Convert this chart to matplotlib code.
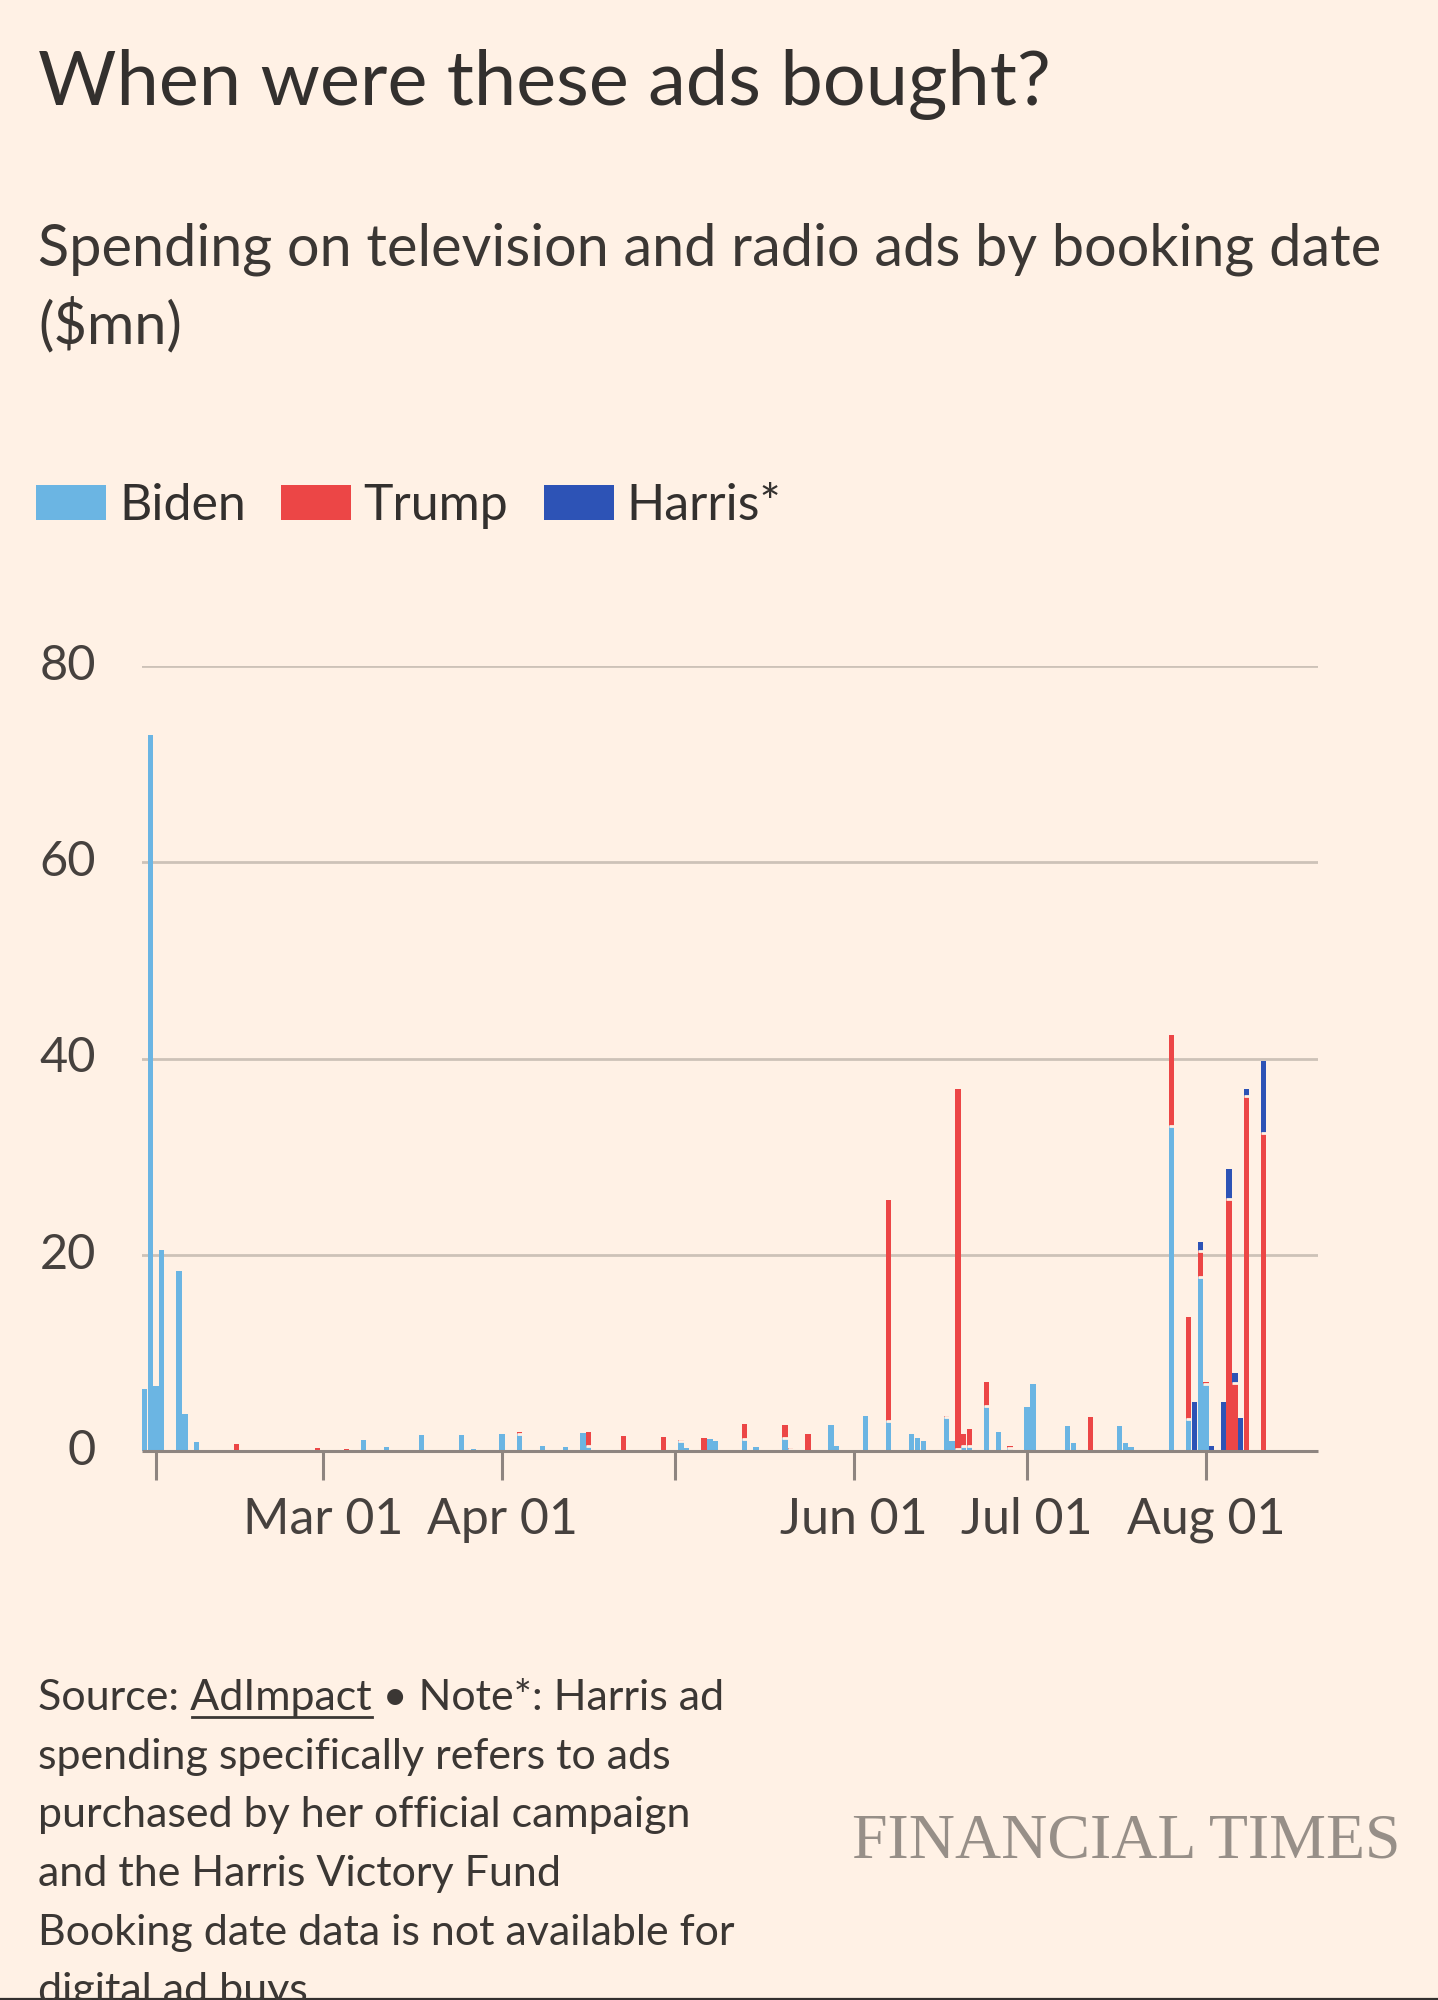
import matplotlib
matplotlib.use("Agg")
import matplotlib.pyplot as plt
import matplotlib.dates as mdates
import numpy as np
import pandas as pd

# ---------------- data ----------------
dates = ["2024-01-30", "2024-01-31", "2024-02-01", "2024-02-02", "2024-02-05", "2024-02-06",
         "2024-02-08", "2024-02-15", "2024-02-29", "2024-03-05", "2024-03-08", "2024-03-12",
         "2024-03-18", "2024-03-22", "2024-03-25", "2024-03-27", "2024-04-01", "2024-04-04",
         "2024-04-08", "2024-04-12", "2024-04-15", "2024-04-16", "2024-04-22", "2024-04-29",
         "2024-04-30", "2024-05-02", "2024-05-03", "2024-05-06", "2024-05-07", "2024-05-08",
         "2024-05-09", "2024-05-13", "2024-05-15", "2024-05-20", "2024-05-21", "2024-05-24",
         "2024-05-28", "2024-05-29", "2024-06-03", "2024-06-07", "2024-06-09", "2024-06-11",
         "2024-06-12", "2024-06-13", "2024-06-17", "2024-06-18", "2024-06-19", "2024-06-20",
         "2024-06-21", "2024-06-24", "2024-06-26", "2024-06-28", "2024-07-01", "2024-07-02",
         "2024-07-03", "2024-07-08", "2024-07-09", "2024-07-12", "2024-07-17", "2024-07-18",
         "2024-07-19", "2024-07-23", "2024-07-26", "2024-07-29", "2024-07-30", "2024-07-31",
         "2024-08-01", "2024-08-02", "2024-08-04", "2024-08-05", "2024-08-06", "2024-08-07",
         "2024-08-08", "2024-08-11"]
biden = [6.3, 73.0, 6.6, 20.5, 18.3, 3.8,
         0.9, 0.0, 0.0, 0.0, 1.1, 0.4,
         1.6, 0.1, 1.6, 0.2, 1.7, 1.7,
         0.5, 0.4, 1.8, 0.5, 0.0, 0.0,
         0.0, 1.0, 0.3, 0.0, 1.25, 1.0,
         0.1, 1.2, 0.45, 1.35, 0.2, 0.0,
         2.6, 0.5, 3.6, 3.1, 0.1, 1.75,
         1.3, 1.0, 3.5, 1.0, 0.2, 0.5,
         0.5, 4.6, 1.9, 0.3, 4.5, 6.8,
         0.05, 2.5, 0.8, 0.0, 2.5, 0.8,
         0.4, 0.0, 33.1, 3.3, 0.0, 17.7,
         6.8, 0.0, 0.0, 0.0, 0.0, 0.0,
         0.0, 0.0]
trump = [0.0, 0.0, 0.0, 0.0, 0.0, 0.0,
         0.0, 0.7, 0.3, 0.2, 0.0, 0.0,
         0.0, 0.0, 0.0, 0.0, 0.0, 0.2,
         0.0, 0.0, 0.0, 1.4, 1.5, 1.4,
         0.1, 0.1, 0.0, 1.3, 0.0, 0.0,
         0.0, 1.6, 0.0, 1.3, 0.1, 1.7,
         0.0, 0.0, 0.0, 22.5, 0.0, 0.0,
         0.0, 0.0, 0.1, 0.0, 36.7, 1.2,
         1.7, 2.4, 0.0, 0.2, 0.0, 0.0,
         0.0, 0.0, 0.0, 3.5, 0.0, 0.0,
         0.0, 0.1, 9.3, 10.4, 0.0, 2.7,
         0.2, 0.0, 0.0, 25.7, 6.9, 0.0,
         36.2, 32.4]
harris = [0.0, 0.0, 0.0, 0.0, 0.0, 0.0,
          0.0, 0.0, 0.0, 0.0, 0.0, 0.0,
          0.0, 0.0, 0.0, 0.0, 0.0, 0.0,
          0.0, 0.0, 0.0, 0.0, 0.0, 0.0,
          0.0, 0.0, 0.0, 0.0, 0.0, 0.0,
          0.0, 0.0, 0.0, 0.0, 0.0, 0.0,
          0.0, 0.0, 0.0, 0.0, 0.0, 0.0,
          0.0, 0.0, 0.0, 0.0, 0.0, 0.0,
          0.0, 0.0, 0.0, 0.0, 0.0, 0.0,
          0.0, 0.0, 0.0, 0.0, 0.0, 0.0,
          0.0, 0.0, 0.0, 0.0, 5.0, 0.9,
          0.0, 0.5, 5.0, 3.0, 1.0, 3.4,
          0.7, 7.3]

series_names = ["Biden", "Trump", "Harris*"]
series_colors = ["#6bb5e3", "#ec4646", "#2d53b6"]

tick_dates = ["2024-02-01", "2024-03-01", "2024-04-01", "2024-05-01",
              "2024-06-01", "2024-07-01", "2024-08-01"]
tick_labels = ["", "Mar 01", "Apr 01", "", "Jun 01", "Jul 01", "Aug 01"]
y_ticks = [0, 20, 40, 60, 80]

title = "When were these ads bought?"
subtitle_lines = ["Spending on television and radio ads by booking date", "($mn)"]
footer_lines = ["Source: AdImpact \u2022 Note*: Harris ad",
                "spending specifically refers to ads",
                "purchased by her official campaign",
                "and the Harris Victory Fund",
                "Booking date data is not available for",
                "digital ad buys"]

# ---------------- style ----------------
BG = "#fff1e5"
TXT = "#33302e"
GRID = "#cdc2b8"
AXIS = "#8e8580"
FONT = ["Lato", "DejaVu Sans"]
plt.rcParams["font.family"] = FONT

W, H = 1438, 2000
fig = plt.figure(figsize=(W / 100, H / 100), dpi=100, facecolor=BG)


def fx(px):
    return px / W


def fy(py):
    return 1 - py / H


ax_left, ax_right, ax_top, ax_bot = 142, 1318, 666, 1451
ax = fig.add_axes([fx(ax_left), fy(ax_bot), fx(ax_right - ax_left), (ax_bot - ax_top) / H])
ax.set_facecolor(BG)

x = mdates.date2num(pd.to_datetime(dates))
b = np.array(biden)
t = np.array(trump)
h = np.array(harris)

bw = 0.93
bars = []
bottom = np.zeros(len(x))
for vals, col, name in zip([b, t, h], series_colors, series_names):
    bc = ax.bar(x, vals, width=bw, bottom=bottom, color=col, linewidth=0, label=name, zorder=3)
    bars.append(bc)
    bottom = bottom + vals

# separators between stacked segments
c1 = b
c2 = b + t
mask1 = (b > 0) & ((t + h) > 0)
mask2 = (t > 0) & (h > 0)
ax.hlines(c1[mask1], x[mask1] - bw / 2, x[mask1] + bw / 2, colors=BG, linewidth=2.0, zorder=4)
ax.hlines(c2[mask2], x[mask2] - bw / 2, x[mask2] + bw / 2, colors=BG, linewidth=2.0, zorder=4)

# axes limits (px/day ~5.77, Feb 01 at x=156 px)
feb1 = mdates.date2num(pd.Timestamp("2024-02-01"))
ppd = (1206 - 156) / 182.0
ax.set_xlim(feb1 + (ax_left - 156) / ppd, feb1 + (ax_right - 156) / ppd)
ax.set_ylim(0, 80)

# grid
ax.set_yticks(y_ticks)
ax.yaxis.grid(True, color=GRID, linewidth=2.0, zorder=1)
ax.set_axisbelow(True)
for s in ["top", "right", "left"]:
    ax.spines[s].set_visible(False)
ax.spines["bottom"].set_color(AXIS)
ax.spines["bottom"].set_linewidth(2.2)
ax.spines["bottom"].set_zorder(5)
ax.spines["bottom"].set_capstyle("butt")

ax.tick_params(axis="y", length=0, pad=33, labelsize=35, labelcolor="#46413e")
ax.set_yticklabels([str(v) for v in y_ticks])
for lab in ax.get_yticklabels():
    lab.set_verticalalignment("center")

ax.set_xticks(mdates.date2num(pd.to_datetime(tick_dates)))
ax.set_xticklabels(tick_labels)
ax.tick_params(axis="x", length=21, width=2.2, color=AXIS, pad=12, labelsize=36,
               labelcolor="#46413e")

# titles
fig.text(fx(38), fy(105), title, fontsize=54.5, color=TXT, va="baseline", ha="left")
fig.text(fx(38), fy(265), subtitle_lines[0], fontsize=41.5, color="#3b3734",
         va="baseline", ha="left")
fig.text(fx(38), fy(343), subtitle_lines[1], fontsize=41.5, color="#3b3734",
         va="baseline", ha="left")

# legend
leg = fig.legend(handles=bars, labels=series_names, loc="upper left",
                 bbox_to_anchor=(fx(36), fy(483)), ncol=3, frameon=False,
                 fontsize=36, handlelength=1.4, handleheight=0.68, handletextpad=0.26,
                 columnspacing=0.7, borderpad=0, borderaxespad=0, labelcolor=TXT)

# footer
fs_foot = 31
line_h = 58.7
y0 = 1710
for i, line in enumerate(footer_lines):
    fig.text(fx(38), fy(y0 + i * line_h), line, fontsize=fs_foot, color="#3b3734",
             va="baseline", ha="left")

# underline for "AdImpact"
fig.canvas.draw()
r = fig.canvas.get_renderer()
tmp1 = fig.text(0, 0, "Source: ", fontsize=fs_foot)
tmp2 = fig.text(0, 0, "Source: AdImpact", fontsize=fs_foot)
w1 = tmp1.get_window_extent(r).width
w2 = tmp2.get_window_extent(r).width
tmp1.remove()
tmp2.remove()
ux0 = 38 + w1 + 2
ux1 = 38 + w2
fig.add_artist(plt.Line2D([fx(ux0), fx(ux1)], [fy(y0 + 7), fy(y0 + 7)], color="#3b3734",
                          linewidth=2.0, transform=fig.transFigure))

fig.text(fx(1401), fy(1857), "FINANCIAL TIMES", fontsize=46, color="#978f88",
         family=["Liberation Serif", "DejaVu Serif"], va="baseline", ha="right")

# thin dark rule at the bottom edge
fig.add_artist(plt.Line2D([0, 1], [fy(1999), fy(1999)], color="#33302e",
                          linewidth=1.6, transform=fig.transFigure))

fig.savefig("out.png", dpi=100, facecolor=BG)
